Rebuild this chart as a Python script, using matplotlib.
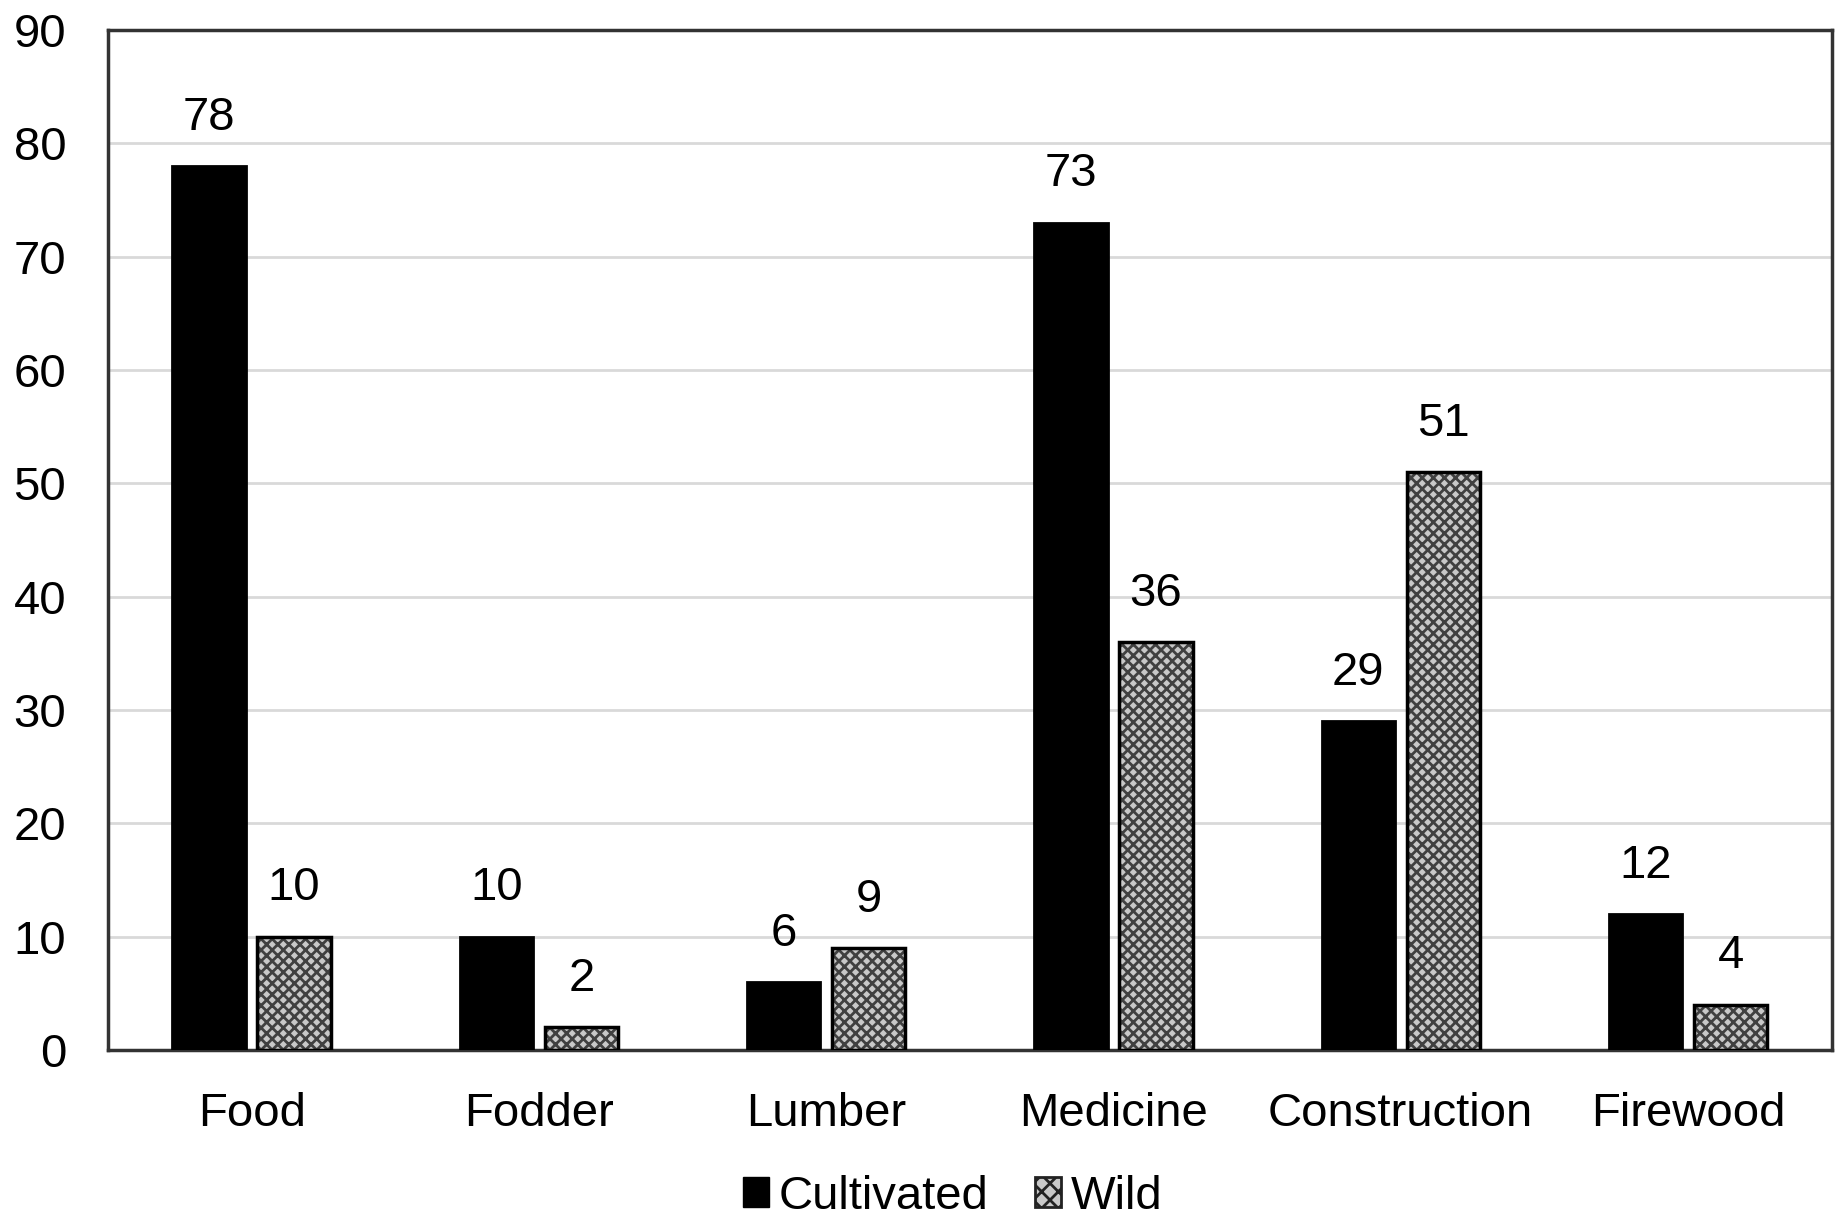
import matplotlib
matplotlib.use("Agg")
import matplotlib.pyplot as plt
from matplotlib.patches import Patch
import numpy as np

categories = ["Food", "Fodder", "Lumber", "Medicine", "Construction", "Firewood"]
cultivated = [78, 10, 6, 73, 29, 12]
wild = [10, 2, 9, 36, 51, 4]
series_names = ["Cultivated", "Wild"]
y_ticks = [0, 10, 20, 30, 40, 50, 60, 70, 80, 90]

plt.rcParams["font.family"] = ["Liberation Sans", "DejaVu Sans"]
plt.rcParams["hatch.linewidth"] = 2.0

fig = plt.figure(figsize=(18.39, 12.2), dpi=100)
ax = fig.add_axes([0.0587, 0.1393, 0.9373, 0.8361])

x = np.arange(len(categories))
width = 0.255
off = 0.148

ax.bar(x - off, cultivated, width, color="black", edgecolor="black", linewidth=2, zorder=3)
# wild: grey fill with dark cross hatching, then a black outline on top
ax.bar(x + off, wild, width, color="#c8c8c8", edgecolor="#404040", hatch="xxx", linewidth=0, zorder=3)
ax.bar(x + off, wild, width, fill=False, edgecolor="black", linewidth=2.5, zorder=4)

for xi, v in zip(x - off, cultivated):
    ax.annotate(str(v), (xi, v), xytext=(0, 19), textcoords="offset points",
                ha="center", va="bottom", fontsize=34)
for xi, v in zip(x + off, wild):
    ax.annotate(str(v), (xi, v), xytext=(0, 19), textcoords="offset points",
                ha="center", va="bottom", fontsize=34)

ax.set_xlim(-0.5, len(categories) - 0.5)
ax.set_ylim(0, 90)
ax.set_yticks(y_ticks)
ax.set_xticks(x)
ax.set_xticklabels(categories)
ax.tick_params(axis="both", length=0, labelsize=34)
ax.tick_params(axis="y", pad=30)
ax.tick_params(axis="x", pad=30)
ax.yaxis.grid(True, color="#d9d9d9", linewidth=2, zorder=0)
ax.set_axisbelow(True)
for s in ax.spines.values():
    s.set_color("#333333")
    s.set_linewidth(2.5)

handles = [Patch(facecolor="black", edgecolor="black"),
           Patch(facecolor="#c8c8c8", edgecolor="#222222", hatch="xx", linewidth=2)]
fig.legend(handles, series_names, loc="center", bbox_to_anchor=(0.518, 0.019), ncol=2,
           frameon=False, fontsize=34, handlelength=0.55, handleheight=0.6,
           handletextpad=0.2, columnspacing=1.0)

fig.savefig("out.png", dpi=100, facecolor="white")
